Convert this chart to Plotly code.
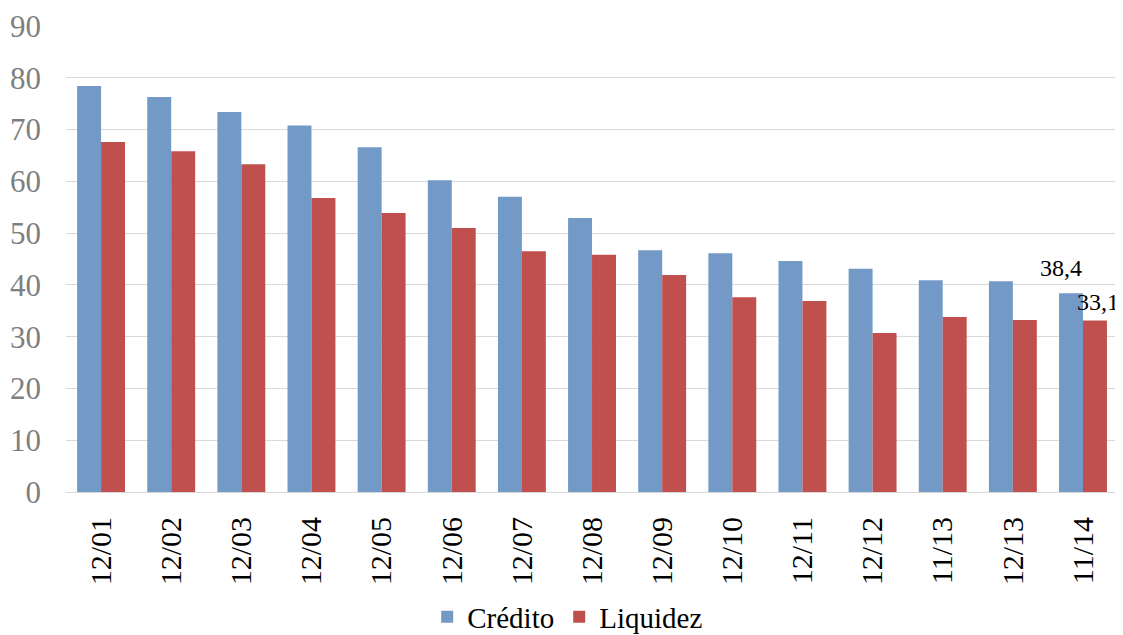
import plotly.graph_objects as go

categories = ["12/01", "12/02", "12/03", "12/04", "12/05", "12/06", "12/07", "12/08",
              "12/09", "12/10", "12/11", "12/12", "11/13", "12/13", "11/14"]
credito = [78.4, 76.3, 73.4, 70.8, 66.6, 60.2, 57.0, 52.9, 46.7, 46.1, 44.6, 43.1, 40.9, 40.7, 38.4]
liquidez = [67.6, 65.8, 63.3, 56.8, 53.9, 51.0, 46.5, 45.8, 41.9, 37.6, 36.9, 30.7, 33.8, 33.2, 33.1]
y_ticks = [0, 10, 20, 30, 40, 50, 60, 70, 80, 90]

FONT = "Liberation Serif"
BLUE = "#7399C6"
RED = "#C0504D"

fig = go.Figure()
fig.add_trace(go.Bar(x=categories, y=credito, name="Crédito", marker=dict(color=BLUE, line=dict(width=0))))
fig.add_trace(go.Bar(x=categories, y=liquidez, name="Liquidez", marker=dict(color=RED, line=dict(width=0))))

fig.add_annotation(x=categories[-1], y=credito[-1], text="38,4", showarrow=False,
                   xshift=-22, yshift=25, yanchor="middle", borderpad=0,
                   font=dict(family=FONT, size=24, color="black"))
fig.add_annotation(x=categories[-1], y=liquidez[-1], text="33,1", showarrow=False,
                   xshift=-7, xanchor="left", yshift=19, yanchor="middle", borderpad=0,
                   font=dict(family=FONT, size=24, color="black"))

# The page body has an 8px margin, so the figure is sized to fit the window.
fig.update_layout(
    width=1115, height=627,
    margin=dict(l=58, r=3, t=18, b=143, autoexpand=False),
    plot_bgcolor="white", paper_bgcolor="white",
    barmode="group", bargap=0.317, bargroupgap=0,
    font=dict(family=FONT, size=29, color="black"),
    legend=dict(orientation="h", x=0.476, xanchor="center", y=-0.268, yanchor="middle",
                font=dict(family=FONT, size=29, color="black"), itemwidth=30),
    showlegend=True,
)
fig.update_xaxes(
    tickangle=-90, showgrid=False, showline=True, linecolor="#D9D9D9", linewidth=1,
    ticks="", tickfont=dict(family=FONT, size=30, color="black"), ticklabelstandoff=12,
    automargin=False,
)
fig.update_yaxes(
    range=[0, 90], tickvals=y_ticks, showgrid=True, gridcolor="#D9D9D9", gridwidth=1,
    zeroline=False, showline=False, ticks="",
    tickfont=dict(family=FONT, size=31, color="#7F7F7F"), ticklabelstandoff=24,
    automargin=False,
)

fig.write_html("out.html")
